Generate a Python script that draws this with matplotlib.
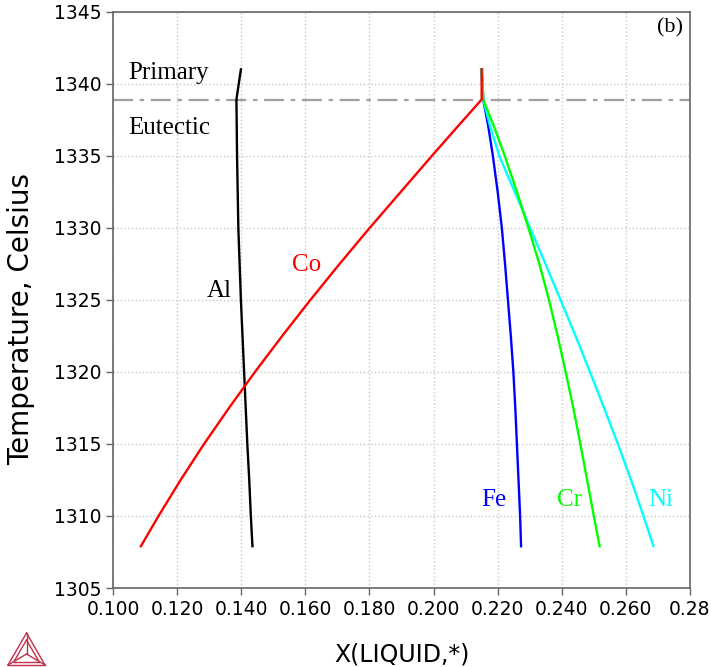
import matplotlib
matplotlib.use('Agg')
from matplotlib import pyplot as plt
from matplotlib.lines import Line2D

# Temperatures (Celsius) at which compositions were read
t_main = [1307.9, 1310, 1312.5, 1315, 1317.5, 1320, 1322.5, 1325, 1327.5,
          1330, 1332.5, 1335, 1337, 1338.9, 1341.0]

# Liquid composition of each element along the eutectic valley
al_x = [0.1435, 0.1430, 0.1425, 0.1419, 0.1414, 0.1409, 0.1404, 0.1399, 0.1395,
        0.1391, 0.1389, 0.1387, 0.1386, 0.1385, 0.1399]
co_x = [0.1087, 0.1142, 0.1211, 0.1284, 0.1362, 0.1443, 0.1528, 0.1616, 0.1707,
        0.1801, 0.1898, 0.1995, 0.2074, 0.2150, 0.2150]
fe_x = [0.2273, 0.2270, 0.2265, 0.2260, 0.2255, 0.2249, 0.2241, 0.2232, 0.2223,
        0.2213, 0.2200, 0.2185, 0.2171, 0.2155, 0.2150]
cr_x = [0.2518, 0.2500, 0.2479, 0.2458, 0.2436, 0.2412, 0.2387, 0.2360, 0.2330,
        0.2296, 0.2260, 0.2222, 0.2189, 0.2155, 0.2152]
ni_x = [0.2686, 0.2655, 0.2616, 0.2575, 0.2532, 0.2488, 0.2443, 0.2396, 0.2349,
        0.2301, 0.2253, 0.2205, 0.2177, 0.2155, 0.2148]

eutectic_t = 1338.9

x_ticks = [0.10, 0.12, 0.14, 0.16, 0.18, 0.20, 0.22, 0.24, 0.26, 0.28]
x_ticklabels = ['0.100', '0.120', '0.140', '0.160', '0.180', '0.200', '0.220', '0.240', '0.260', '0.28']
y_ticks = [1305, 1310, 1315, 1320, 1325, 1330, 1335, 1340, 1345]

fig = plt.figure(figsize=(7.11, 6.67), dpi=100)
ax = fig.add_axes([113/711, 1-588/667, (690-113)/711, (588-11.7)/667])

ax.grid(True, color='#c8c8c8', linestyle=':', linewidth=1.0)
ax.set_axisbelow(True)

ax.axhline(eutectic_t, color='#a0a0a0', linestyle='-.', linewidth=1.6, dashes=(9, 3, 2, 3))

ax.plot(al_x, t_main, color='black', lw=1.7)
ax.plot(fe_x, t_main, color='#0000ff', lw=1.7)
ax.plot(ni_x, t_main, color='#00ffff', lw=1.7)
ax.plot(cr_x, t_main, color='#00ff00', lw=1.7)
ax.plot(co_x, t_main, color='#ff0000', lw=1.7)

serif = 'Liberation Serif'
fs = 18
ax.text(0.1047, 1340.75, 'Primary', family=serif, fontsize=fs, va='center')
ax.text(0.1047, 1336.9, 'Eutectic', family=serif, fontsize=fs, va='center')
ax.text(0.1371, 1325.6, 'Al', family=serif, fontsize=fs, ha='right', va='center', color='black')
ax.text(0.1559, 1327.4, 'Co', family=serif, fontsize=fs, va='center', color='#ff0000')
ax.text(0.2226, 1311.1, 'Fe', family=serif, fontsize=fs, ha='right', va='center', color='#0000ff')
ax.text(0.2385, 1311.1, 'Cr', family=serif, fontsize=fs, va='center', color='#00ff00')
ax.text(0.2669, 1311.1, 'Ni', family=serif, fontsize=fs, va='center', color='#00ffff')
ax.text(0.2778, 1343.9, '(b)', family=serif, fontsize=16, ha='right', va='center')

ax.set_xlim(0.10, 0.28)
ax.set_ylim(1305, 1345)
ax.set_xticks(x_ticks)
ax.set_xticklabels(x_ticklabels)
ax.set_yticks(y_ticks)
ax.tick_params(labelsize=13.5, color='#666666', length=5, width=1, direction='out')
for s in ax.spines.values():
    s.set_color('#666666')
    s.set_linewidth(1.2)

ax.set_xlabel('X(LIQUID,*)', fontsize=17)
ax.set_ylabel('Temperature, Celsius', fontsize=20)
ax.xaxis.set_label_coords(0.5, -0.094)
ax.yaxis.set_label_coords(-0.135, 0.467)

# small triangle logo bottom-left
logo = '#c0304a'
W, H = 711, 667
def seg(p, q):
    fig.add_artist(Line2D([p[0]/W, q[0]/W], [1-p[1]/H, 1-q[1]/H], color=logo, lw=1.0, transform=fig.transFigure))
A, B, C = (8, 665), (45, 665), (26.5, 633)
M = (26.5, 654)
for p, q in [(A, B), (B, C), (C, A), (A, M), (B, M), (C, M)]:
    seg(p, q)
a2, b2, c2 = (14, 661.5), (39, 661.5), (26.5, 640)
for p, q in [(a2, b2), (b2, c2), (c2, a2)]:
    seg(p, q)

plt.savefig('out.png', dpi=100)
